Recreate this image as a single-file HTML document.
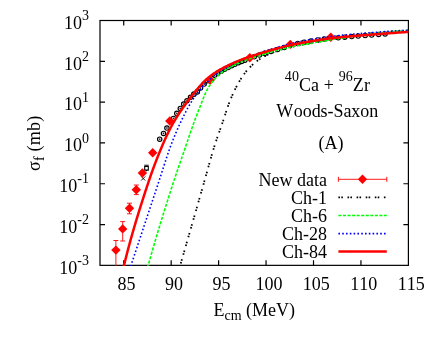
<!DOCTYPE html>
<html><head><meta charset="utf-8"><title>plot</title>
<style>html,body{margin:0;padding:0;background:#fff;width:436px;height:342px;overflow:hidden}</style></head>
<body>
<svg width="436" height="342" viewBox="0 0 436 342" style="position:absolute;left:0;top:0;will-change:transform">
<rect width="436" height="342" fill="#fff"/>
<defs><clipPath id="c"><rect x="100.0" y="20.5" width="308.4" height="245.45000000000002"/></clipPath></defs>
<g stroke="#000" stroke-width="1.2" fill="none">
<rect x="100.0" y="20.5" width="308.4" height="244.85000000000002"/>
<path d="M123.72,265.35v-5M123.72,20.5v5M171.17,265.35v-5M171.17,20.5v5M218.62,265.35v-5M218.62,20.5v5M266.06,265.35v-5M266.06,20.5v5M313.51,265.35v-5M313.51,20.5v5M360.95,265.35v-5M360.95,20.5v5M100.0,61.31h5M408.4,61.31h-5M100.0,102.12h5M408.4,102.12h-5M100.0,142.93h5M408.4,142.93h-5M100.0,183.73h5M408.4,183.73h-5M100.0,224.54h5M408.4,224.54h-5"/>
</g>
<g clip-path="url(#c)" fill="none">
<circle cx="159.7" cy="139.2" r="2.2" stroke="#000" stroke-width="1.15"/>
<path d="M158.80,139.2h1.8M159.7,138.30v1.8" stroke="#000" stroke-width="0.7"/>
<circle cx="163.5" cy="133.4" r="2.2" stroke="#000" stroke-width="1.15"/>
<path d="M162.60,133.4h1.8M163.5,132.50v1.8" stroke="#000" stroke-width="0.7"/>
<circle cx="166.9" cy="128.0" r="2.2" stroke="#000" stroke-width="1.15"/>
<path d="M166.00,128.0h1.8M166.9,127.10v1.8" stroke="#000" stroke-width="0.7"/>
<circle cx="173.41" cy="118.41" r="2.2" stroke="#000" stroke-width="1.15"/>
<path d="M172.51,118.41h1.8M173.41,117.51v1.8" stroke="#000" stroke-width="0.7"/>
<circle cx="176.8" cy="113.38" r="2.2" stroke="#000" stroke-width="1.15"/>
<path d="M175.90,113.38h1.8M176.8,112.48v1.8" stroke="#000" stroke-width="0.7"/>
<circle cx="180.31" cy="108.45" r="2.2" stroke="#000" stroke-width="1.15"/>
<path d="M179.41,108.45h1.8M180.31,107.55v1.8" stroke="#000" stroke-width="0.7"/>
<circle cx="183.67" cy="104.03" r="2.2" stroke="#000" stroke-width="1.15"/>
<path d="M182.77,104.03h1.8M183.67,103.13v1.8" stroke="#000" stroke-width="0.7"/>
<circle cx="186.96" cy="100.84" r="2.2" stroke="#000" stroke-width="1.15"/>
<path d="M186.06,100.84h1.8M186.96,99.94v1.8" stroke="#000" stroke-width="0.7"/>
<circle cx="190.53" cy="97.26" r="2.2" stroke="#000" stroke-width="1.15"/>
<path d="M189.63,97.26h1.8M190.53,96.36v1.8" stroke="#000" stroke-width="0.7"/>
<circle cx="193.83" cy="94.14" r="2.2" stroke="#000" stroke-width="1.15"/>
<path d="M192.93,94.14h1.8M193.83,93.24v1.8" stroke="#000" stroke-width="0.7"/>
<circle cx="197.37" cy="91.88" r="2.2" stroke="#000" stroke-width="1.15"/>
<path d="M196.47,91.88h1.8M197.37,90.98v1.8" stroke="#000" stroke-width="0.7"/>
<circle cx="200.55" cy="88.08" r="2.2" stroke="#000" stroke-width="1.15"/>
<path d="M199.65,88.08h1.8M200.55,87.18v1.8" stroke="#000" stroke-width="0.7"/>
<circle cx="204.17" cy="84.06" r="2.2" stroke="#000" stroke-width="1.15"/>
<path d="M203.27,84.06h1.8M204.17,83.16v1.8" stroke="#000" stroke-width="0.7"/>
<circle cx="207.64" cy="80.67" r="2.2" stroke="#000" stroke-width="1.15"/>
<path d="M206.74,80.67h1.8M207.64,79.77v1.8" stroke="#000" stroke-width="0.7"/>
<circle cx="214.51" cy="75.28" r="2.2" stroke="#000" stroke-width="1.15"/>
<path d="M213.61,75.28h1.8M214.51,74.38v1.8" stroke="#000" stroke-width="0.7"/>
<circle cx="217.79" cy="73.14" r="2.2" stroke="#000" stroke-width="1.15"/>
<path d="M216.89,73.14h1.8M217.79,72.24v1.8" stroke="#000" stroke-width="0.7"/>
<circle cx="221.15" cy="71.13" r="2.2" stroke="#000" stroke-width="1.15"/>
<path d="M220.25,71.13h1.8M221.15,70.23v1.8" stroke="#000" stroke-width="0.7"/>
<circle cx="224.61" cy="69.24" r="2.2" stroke="#000" stroke-width="1.15"/>
<path d="M223.71,69.24h1.8M224.61,68.34v1.8" stroke="#000" stroke-width="0.7"/>
<circle cx="228.13" cy="67.45" r="2.2" stroke="#000" stroke-width="1.15"/>
<path d="M227.23,67.45h1.8M228.13,66.55v1.8" stroke="#000" stroke-width="0.7"/>
<circle cx="231.7" cy="65.74" r="2.2" stroke="#000" stroke-width="1.15"/>
<path d="M230.80,65.74h1.8M231.7,64.84v1.8" stroke="#000" stroke-width="0.7"/>
<circle cx="234.85" cy="64.31" r="2.2" stroke="#000" stroke-width="1.15"/>
<path d="M233.95,64.31h1.8M234.85,63.41v1.8" stroke="#000" stroke-width="0.7"/>
<circle cx="238.46" cy="62.72" r="2.2" stroke="#000" stroke-width="1.15"/>
<path d="M237.56,62.72h1.8M238.46,61.82v1.8" stroke="#000" stroke-width="0.7"/>
<circle cx="241.66" cy="61.41" r="2.2" stroke="#000" stroke-width="1.15"/>
<path d="M240.76,61.41h1.8M241.66,60.51v1.8" stroke="#000" stroke-width="0.7"/>
<circle cx="244.9" cy="60.15" r="2.2" stroke="#000" stroke-width="1.15"/>
<path d="M244.00,60.15h1.8M244.9,59.25v1.8" stroke="#000" stroke-width="0.7"/>
<circle cx="254.26" cy="56.8" r="2.2" stroke="#000" stroke-width="1.15"/>
<path d="M253.36,56.8h1.8M254.26,55.90v1.8" stroke="#000" stroke-width="0.7"/>
<circle cx="259.47" cy="55.08" r="2.2" stroke="#000" stroke-width="1.15"/>
<path d="M258.57,55.08h1.8M259.47,54.18v1.8" stroke="#000" stroke-width="0.7"/>
<circle cx="264.7" cy="53.39" r="2.2" stroke="#000" stroke-width="1.15"/>
<path d="M263.80,53.39h1.8M264.7,52.49v1.8" stroke="#000" stroke-width="0.7"/>
<circle cx="270.89" cy="51.45" r="2.2" stroke="#000" stroke-width="1.15"/>
<path d="M269.99,51.45h1.8M270.89,50.55v1.8" stroke="#000" stroke-width="0.7"/>
<circle cx="277.58" cy="49.41" r="2.2" stroke="#000" stroke-width="1.15"/>
<path d="M276.68,49.41h1.8M277.58,48.51v1.8" stroke="#000" stroke-width="0.7"/>
<circle cx="284.28" cy="47.44" r="2.2" stroke="#000" stroke-width="1.15"/>
<path d="M283.38,47.44h1.8M284.28,46.54v1.8" stroke="#000" stroke-width="0.7"/>
<circle cx="297.69" cy="43.4" r="2.2" stroke="#000" stroke-width="1.15"/>
<path d="M296.79,43.4h1.8M297.69,42.50v1.8" stroke="#000" stroke-width="0.7"/>
<circle cx="304.09" cy="42.23" r="2.2" stroke="#000" stroke-width="1.15"/>
<path d="M303.19,42.23h1.8M304.09,41.33v1.8" stroke="#000" stroke-width="0.7"/>
<circle cx="310.99" cy="41.06" r="2.2" stroke="#000" stroke-width="1.15"/>
<path d="M310.09,41.06h1.8M310.99,40.16v1.8" stroke="#000" stroke-width="0.7"/>
<circle cx="317.9" cy="39.93" r="2.2" stroke="#000" stroke-width="1.15"/>
<path d="M317.00,39.93h1.8M317.9,39.03v1.8" stroke="#000" stroke-width="0.7"/>
<circle cx="324.34" cy="38.96" r="2.2" stroke="#000" stroke-width="1.15"/>
<path d="M323.44,38.96h1.8M324.34,38.06v1.8" stroke="#000" stroke-width="0.7"/>
<circle cx="338.29" cy="37.83" r="2.2" stroke="#000" stroke-width="1.15"/>
<path d="M337.39,37.83h1.8M338.29,36.93v1.8" stroke="#000" stroke-width="0.7"/>
<circle cx="344.76" cy="37.2" r="2.2" stroke="#000" stroke-width="1.15"/>
<path d="M343.86,37.2h1.8M344.76,36.30v1.8" stroke="#000" stroke-width="0.7"/>
<circle cx="351.73" cy="36.59" r="2.2" stroke="#000" stroke-width="1.15"/>
<path d="M350.83,36.59h1.8M351.73,35.69v1.8" stroke="#000" stroke-width="0.7"/>
<circle cx="358.21" cy="36.05" r="2.2" stroke="#000" stroke-width="1.15"/>
<path d="M357.31,36.05h1.8M358.21,35.15v1.8" stroke="#000" stroke-width="0.7"/>
<circle cx="365.18" cy="35.51" r="2.2" stroke="#000" stroke-width="1.15"/>
<path d="M364.28,35.51h1.8M365.18,34.61v1.8" stroke="#000" stroke-width="0.7"/>
<circle cx="371.67" cy="35.01" r="2.2" stroke="#000" stroke-width="1.15"/>
<path d="M370.77,35.01h1.8M371.67,34.11v1.8" stroke="#000" stroke-width="0.7"/>
<circle cx="378.64" cy="34.47" r="2.2" stroke="#000" stroke-width="1.15"/>
<path d="M377.74,34.47h1.8M378.64,33.57v1.8" stroke="#000" stroke-width="0.7"/>
<circle cx="385.12" cy="33.96" r="2.2" stroke="#000" stroke-width="1.15"/>
<path d="M384.22,33.96h1.8M385.12,33.06v1.8" stroke="#000" stroke-width="0.7"/>
<path d="M144.7,166.5h3.6v3.6h-3.6zM144.3,165.2h4.4M146.5,170.1v1.2" stroke="#000" stroke-width="1.1"/>
<path d="M141.2,176.5l4,4M145.2,176.5l-4,4" stroke="#000" stroke-width="0.9"/>
<path d="M115.9,240.5V267M113.4,240.5h5M113.4,267h5" stroke="#ff0000" stroke-width="0.9"/>
<path d="M111.20,250.10L115.90,245.40L120.60,250.10L115.90,254.80Z" fill="#ff0000"/>
<path d="M122.7,221.6V241M120.2,221.6h5M120.2,241h5" stroke="#ff0000" stroke-width="0.9"/>
<path d="M118.00,228.90L122.70,224.20L127.40,228.90L122.70,233.60Z" fill="#ff0000"/>
<path d="M129.5,203.2V213.8M127.0,203.2h5M127.0,213.8h5" stroke="#ff0000" stroke-width="0.9"/>
<path d="M124.80,208.30L129.50,203.60L134.20,208.30L129.50,213.00Z" fill="#ff0000"/>
<path d="M136.3,185V194.6M133.8,185h5M133.8,194.6h5" stroke="#ff0000" stroke-width="0.9"/>
<path d="M131.60,189.80L136.30,185.10L141.00,189.80L136.30,194.50Z" fill="#ff0000"/>
<path d="M137.70,173.00L142.40,168.30L147.10,173.00L142.40,177.70Z" fill="#ff0000"/>
<path d="M148.00,152.80L152.70,148.10L157.40,152.80L152.70,157.50Z" fill="#ff0000"/>
<path d="M165.10,121.00L169.80,116.30L174.50,121.00L169.80,125.70Z" fill="#ff0000"/>
<path d="M205.50,80.00L210.20,75.30L214.90,80.00L210.20,84.70Z" fill="#ff0000"/>
<path d="M245.10,57.70L249.80,53.00L254.50,57.70L249.80,62.40Z" fill="#ff0000"/>
<path d="M285.60,44.40L290.30,39.70L295.00,44.40L290.30,49.10Z" fill="#ff0000"/>
<path d="M326.10,37.30L330.80,32.60L335.50,37.30L330.80,42.00Z" fill="#ff0000"/>
<path d="M175.69,281.02 L175.73,280.90 L175.80,280.64 L175.92,280.24 L176.07,279.72 L176.25,279.08 L176.46,278.37 L176.69,277.58 L176.93,276.73 L177.18,275.85 L177.45,274.94 L177.72,274.01 L177.99,273.06 L178.26,272.11 L178.54,271.16 L178.81,270.20 L179.09,269.24 L179.37,268.28 L179.65,267.32 L179.92,266.36 L180.20,265.40 L180.48,264.44 L180.75,263.48 L181.03,262.52 L181.31,261.56 L181.59,260.60 L181.86,259.64 L182.14,258.67 L182.42,257.71 L182.69,256.75 L182.97,255.79 L183.25,254.83 L183.52,253.87 L183.80,252.91 L184.08,251.95 L184.36,250.99 L184.63,250.03 L184.91,249.07 L185.19,248.10 L185.46,247.14 L185.74,246.18 L186.02,245.22 L186.29,244.26 L186.57,243.30 L186.85,242.34 L187.12,241.38 L187.40,240.42 L187.68,239.46 L187.95,238.49 L188.23,237.53 L188.51,236.57 L188.78,235.61 L189.06,234.65 L189.34,233.69 L189.61,232.73 L189.89,231.77 L190.16,230.81 L190.44,229.85 L190.72,228.88 L190.99,227.92 L191.27,226.96 L191.55,226.00 L191.82,225.04 L192.10,224.08 L192.37,223.12 L192.65,222.16 L192.93,221.20 L193.20,220.23 L193.48,219.27 L193.75,218.31 L194.03,217.35 L194.31,216.39 L194.58,215.43 L194.86,214.47 L195.13,213.51 L195.41,212.55 L195.69,211.58 L195.96,210.62 L196.24,209.66 L196.51,208.70 L196.79,207.74 L197.07,206.78 L197.34,205.82 L197.62,204.86 L197.89,203.89 L198.17,202.93 L198.45,201.97 L198.72,201.01 L199.00,200.05 L199.27,199.09 L199.55,198.13 L199.82,197.17 L200.10,196.20 L200.37,195.24 L200.65,194.28 L200.93,193.32 L201.20,192.36 L201.48,191.40 L201.75,190.44 L202.03,189.48 L202.30,188.51 L202.58,187.55 L202.85,186.59 L203.13,185.63 L203.40,184.67 L203.68,183.71 L203.95,182.75 L204.23,181.78 L204.50,180.82 L204.77,179.86 L205.05,178.90 L205.32,177.93 L205.59,176.97 L205.86,176.01 L206.13,175.05 L206.40,174.08 L206.67,173.12 L206.94,172.15 L207.21,171.19 L207.47,170.23 L207.74,169.26 L208.01,168.30 L208.28,167.34 L208.54,166.37 L208.81,165.41 L209.08,164.44 L209.35,163.48 L209.62,162.52 L209.89,161.55 L210.16,160.59 L210.43,159.63 L210.71,158.67 L210.98,157.71 L211.26,156.74 L211.53,155.78 L211.81,154.82 L212.09,153.86 L212.38,152.91 L212.66,151.95 L212.95,150.99 L213.24,150.03 L213.53,149.08 L213.82,148.12 L214.12,147.17 L214.42,146.22 L214.72,145.26 L215.03,144.31 L215.34,143.36 L215.65,142.41 L215.96,141.46 L216.28,140.52 L216.60,139.57 L216.93,138.62 L217.25,137.68 L217.58,136.73 L217.91,135.79 L218.24,134.85 L218.57,133.90 L218.91,132.96 L219.24,132.02 L219.58,131.07 L219.91,130.13 L220.25,129.19 L220.58,128.25 L220.91,127.30 L221.24,126.36 L221.57,125.41 L221.90,124.47 L222.23,123.52 L222.55,122.58 L222.87,121.63 L223.19,120.68 L223.51,119.73 L223.82,118.78 L224.13,117.83 L224.44,116.88 L224.75,115.93 L225.06,114.98 L225.36,114.02 L225.67,113.07 L225.98,112.12 L226.29,111.17 L226.60,110.22 L226.92,109.27 L227.24,108.32 L227.56,107.38 L227.89,106.44 L228.23,105.49 L228.57,104.55 L228.92,103.62 L229.27,102.68 L229.63,101.75 L229.99,100.82 L230.36,99.89 L230.74,98.96 L231.12,98.03 L231.51,97.11 L231.90,96.19 L232.30,95.27 L232.71,94.36 L233.12,93.45 L233.54,92.54 L233.96,91.63 L234.40,90.73 L234.83,89.83 L235.28,88.94 L235.73,88.04 L236.18,87.15 L236.65,86.26 L237.12,85.38 L237.59,84.49 L238.08,83.61 L238.57,82.74 L239.07,81.87 L239.58,81.00 L240.09,80.14 L240.62,79.28 L241.15,78.43 L241.69,77.59 L242.24,76.76 L242.80,75.93 L243.37,75.12 L243.95,74.31 L244.54,73.51 L245.15,72.72 L245.76,71.94 L246.39,71.17 L247.03,70.41 L247.68,69.66 L248.35,68.92 L249.02,68.19 L249.71,67.47 L250.42,66.75 L251.13,66.05 L251.86,65.36 L252.59,64.68 L253.34,64.01 L254.10,63.36 L254.87,62.71 L255.64,62.08 L256.43,61.47 L257.23,60.87 L258.03,60.28 L258.85,59.71 L259.68,59.16 L260.52,58.62 L261.36,58.09 L262.22,57.58 L263.08,57.08 L263.96,56.60 L264.84,56.13 L265.73,55.68 L266.62,55.24 L267.52,54.80 L268.43,54.39 L269.34,53.98 L270.26,53.58 L271.18,53.20 L272.11,52.82 L273.04,52.45 L273.97,52.10 L274.91,51.75 L275.85,51.41 L276.79,51.08 L277.74,50.75 L278.68,50.44 L279.63,50.13 L280.59,49.83 L281.54,49.53 L282.50,49.24 L283.46,48.96 L284.42,48.68 L285.39,48.42 L286.35,48.16 L287.32,47.90 L288.29,47.65 L289.26,47.42 L290.23,47.18 L291.20,46.96 L292.17,46.74 L293.15,46.52 L294.13,46.32 L295.10,46.12 L296.08,45.92 L297.06,45.73 L298.05,45.54 L299.03,45.36 L300.01,45.18 L301.00,45.00 L301.98,44.82 L302.97,44.65 L303.95,44.47 L304.94,44.30 L305.93,44.13 L306.91,43.96 L307.90,43.78 L308.88,43.61 L309.87,43.44 L310.85,43.26 L311.84,43.08 L312.82,42.91 L313.81,42.73 L314.79,42.55 L315.78,42.37 L316.76,42.19 L317.74,42.01 L318.73,41.83 L319.71,41.65 L320.70,41.47 L321.68,41.29 L322.66,41.12 L323.65,40.94 L324.63,40.76 L325.62,40.59 L326.60,40.42 L327.59,40.25 L328.57,40.08 L329.56,39.92 L330.55,39.75 L331.53,39.59 L332.52,39.43 L333.51,39.27 L334.49,39.12 L335.48,38.96 L336.47,38.81 L337.46,38.66 L338.45,38.51 L339.44,38.37 L340.43,38.22 L341.42,38.08 L342.41,37.93 L343.40,37.79 L344.39,37.65 L345.38,37.51 L346.37,37.37 L347.36,37.23 L348.35,37.09 L349.34,36.95 L350.33,36.82 L351.32,36.68 L352.31,36.54 L353.30,36.41 L354.29,36.27 L355.28,36.14 L356.27,36.00 L357.26,35.87 L358.26,35.74 L359.25,35.61 L360.24,35.47 L361.23,35.34 L362.22,35.21 L363.21,35.08 L364.20,34.95 L365.20,34.82 L366.19,34.69 L367.18,34.57 L368.17,34.44 L369.16,34.31 L370.15,34.19 L371.15,34.06 L372.14,33.94 L373.13,33.81 L374.12,33.69 L375.12,33.56 L376.11,33.44 L377.10,33.31 L378.09,33.19 L379.09,33.07 L380.08,32.95 L381.07,32.83 L382.06,32.71 L383.06,32.59 L384.05,32.47 L385.04,32.35 L386.04,32.24 L387.03,32.13 L388.03,32.02 L389.02,31.91 L390.01,31.81 L391.01,31.71 L392.00,31.61 L393.00,31.51 L393.99,31.42 L394.99,31.33 L395.98,31.24 L396.98,31.15 L397.97,31.07 L398.97,30.99 L399.96,30.91 L400.95,30.83 L401.94,30.76 L402.92,30.68 L403.90,30.61 L404.87,30.55 L405.84,30.48 L406.80,30.42 L407.75,30.35 L408.70,30.29 L409.64,30.24 L410.57,30.18 L411.49,30.12 L412.41,30.07 L413.32,30.01 L414.22,29.96 L415.12,29.90 L416.01,29.85 L416.89,29.80 L417.76,29.75 L418.60,29.70 L419.41,29.65 L420.18,29.61 L420.89,29.56 L421.52,29.53 L422.06,29.49 L422.50,29.47 L422.81,29.45 L422.99,29.44" stroke="#000" stroke-width="1.8" stroke-dasharray="1.6 1.3 1.6 4.6"/>
<path d="M143.89,281.09 L143.92,280.97 L144.00,280.71 L144.11,280.31 L144.25,279.78 L144.43,279.15 L144.62,278.42 L144.84,277.63 L145.08,276.78 L145.32,275.90 L145.57,274.98 L145.83,274.05 L146.09,273.10 L146.35,272.14 L146.61,271.19 L146.88,270.22 L147.14,269.26 L147.41,268.30 L147.67,267.33 L147.94,266.37 L148.20,265.40 L148.47,264.44 L148.74,263.47 L149.00,262.51 L149.27,261.54 L149.54,260.58 L149.81,259.62 L150.08,258.65 L150.35,257.69 L150.62,256.73 L150.89,255.76 L151.16,254.80 L151.44,253.84 L151.71,252.87 L151.99,251.91 L152.26,250.95 L152.54,249.99 L152.81,249.03 L153.09,248.07 L153.37,247.10 L153.64,246.14 L153.92,245.18 L154.20,244.22 L154.48,243.26 L154.76,242.30 L155.04,241.34 L155.33,240.38 L155.61,239.42 L155.89,238.46 L156.18,237.50 L156.46,236.54 L156.74,235.59 L157.03,234.63 L157.32,233.67 L157.60,232.71 L157.89,231.75 L158.18,230.79 L158.47,229.84 L158.75,228.88 L159.04,227.92 L159.33,226.96 L159.62,226.01 L159.92,225.05 L160.21,224.09 L160.50,223.14 L160.79,222.18 L161.08,221.22 L161.38,220.27 L161.67,219.31 L161.97,218.36 L162.26,217.40 L162.56,216.45 L162.85,215.49 L163.15,214.54 L163.45,213.58 L163.74,212.63 L164.04,211.67 L164.34,210.72 L164.64,209.76 L164.94,208.81 L165.24,207.86 L165.54,206.90 L165.84,205.95 L166.14,204.99 L166.44,204.04 L166.74,203.09 L167.04,202.13 L167.34,201.18 L167.65,200.23 L167.95,199.28 L168.25,198.32 L168.56,197.37 L168.86,196.42 L169.17,195.47 L169.47,194.51 L169.78,193.56 L170.08,192.61 L170.39,191.66 L170.70,190.71 L171.00,189.76 L171.31,188.81 L171.62,187.85 L171.92,186.90 L172.23,185.95 L172.54,185.00 L172.85,184.05 L173.16,183.10 L173.47,182.15 L173.78,181.20 L174.10,180.25 L174.41,179.30 L174.72,178.35 L175.04,177.40 L175.36,176.46 L175.68,175.51 L175.99,174.56 L176.31,173.61 L176.64,172.67 L176.96,171.72 L177.28,170.77 L177.61,169.83 L177.93,168.88 L178.26,167.94 L178.59,166.99 L178.91,166.05 L179.24,165.10 L179.57,164.16 L179.90,163.21 L180.23,162.27 L180.56,161.32 L180.88,160.38 L181.21,159.43 L181.54,158.49 L181.87,157.55 L182.20,156.60 L182.52,155.65 L182.85,154.71 L183.18,153.76 L183.50,152.82 L183.83,151.87 L184.15,150.93 L184.47,149.98 L184.80,149.03 L185.12,148.09 L185.44,147.14 L185.76,146.19 L186.09,145.25 L186.41,144.30 L186.73,143.35 L187.05,142.40 L187.37,141.46 L187.70,140.51 L188.02,139.56 L188.34,138.62 L188.66,137.67 L188.99,136.72 L189.31,135.78 L189.63,134.83 L189.96,133.89 L190.28,132.94 L190.61,131.99 L190.94,131.05 L191.27,130.11 L191.60,129.16 L191.93,128.22 L192.26,127.27 L192.59,126.33 L192.93,125.39 L193.26,124.45 L193.60,123.51 L193.94,122.57 L194.28,121.63 L194.63,120.69 L194.97,119.75 L195.32,118.81 L195.67,117.88 L196.02,116.94 L196.38,116.01 L196.73,115.07 L197.09,114.14 L197.45,113.21 L197.81,112.27 L198.18,111.34 L198.54,110.41 L198.91,109.48 L199.28,108.55 L199.64,107.61 L200.01,106.68 L200.38,105.75 L200.74,104.82 L201.11,103.88 L201.48,102.95 L201.84,102.01 L202.21,101.08 L202.58,100.14 L202.95,99.21 L203.33,98.28 L203.70,97.35 L204.09,96.42 L204.47,95.50 L204.87,94.58 L205.27,93.67 L205.69,92.76 L206.11,91.87 L206.55,90.97 L207.00,90.09 L207.47,89.21 L207.95,88.34 L208.44,87.48 L208.95,86.63 L209.48,85.79 L210.03,84.96 L210.59,84.14 L211.17,83.33 L211.77,82.53 L212.38,81.75 L213.01,80.98 L213.66,80.22 L214.32,79.48 L215.00,78.75 L215.69,78.03 L216.40,77.33 L217.12,76.64 L217.85,75.97 L218.60,75.31 L219.36,74.66 L220.13,74.03 L220.91,73.41 L221.70,72.80 L222.50,72.20 L223.31,71.61 L224.13,71.04 L224.95,70.47 L225.78,69.92 L226.62,69.38 L227.47,68.85 L228.32,68.33 L229.18,67.82 L230.05,67.33 L230.92,66.84 L231.80,66.36 L232.68,65.90 L233.57,65.44 L234.46,64.99 L235.36,64.55 L236.26,64.12 L237.17,63.70 L238.08,63.28 L238.99,62.87 L239.90,62.47 L240.82,62.08 L241.74,61.69 L242.66,61.30 L243.59,60.92 L244.52,60.55 L245.45,60.19 L246.38,59.83 L247.32,59.48 L248.25,59.13 L249.19,58.79 L250.14,58.46 L251.08,58.13 L252.03,57.81 L252.98,57.50 L253.93,57.19 L254.88,56.88 L255.83,56.58 L256.79,56.28 L257.74,55.99 L258.70,55.69 L259.65,55.40 L260.61,55.12 L261.57,54.83 L262.53,54.54 L263.49,54.26 L264.45,53.98 L265.41,53.69 L266.37,53.41 L267.33,53.14 L268.29,52.86 L269.25,52.59 L270.21,52.31 L271.17,52.04 L272.14,51.77 L273.10,51.50 L274.07,51.24 L275.03,50.97 L276.00,50.71 L276.96,50.44 L277.93,50.18 L278.89,49.92 L279.86,49.67 L280.83,49.42 L281.80,49.16 L282.76,48.92 L283.73,48.67 L284.70,48.43 L285.68,48.20 L286.65,47.96 L287.62,47.73 L288.59,47.51 L289.57,47.29 L290.54,47.08 L291.52,46.87 L292.50,46.66 L293.48,46.46 L294.46,46.26 L295.44,46.07 L296.42,45.88 L297.40,45.69 L298.38,45.50 L299.37,45.32 L300.35,45.14 L301.33,44.96 L302.32,44.79 L303.30,44.61 L304.29,44.44 L305.27,44.26 L306.26,44.09 L307.24,43.91 L308.23,43.74 L309.21,43.56 L310.20,43.38 L311.18,43.21 L312.17,43.03 L313.15,42.85 L314.14,42.67 L315.12,42.49 L316.10,42.31 L317.09,42.13 L318.07,41.95 L319.05,41.77 L320.04,41.59 L321.02,41.41 L322.01,41.23 L322.99,41.06 L323.97,40.88 L324.96,40.71 L325.94,40.53 L326.93,40.36 L327.91,40.19 L328.90,40.03 L329.89,39.86 L330.87,39.70 L331.86,39.54 L332.85,39.38 L333.83,39.22 L334.82,39.07 L335.81,38.91 L336.80,38.76 L337.79,38.61 L338.78,38.46 L339.76,38.32 L340.75,38.17 L341.74,38.03 L342.73,37.88 L343.72,37.74 L344.71,37.60 L345.70,37.46 L346.69,37.32 L347.68,37.18 L348.68,37.05 L349.67,36.91 L350.66,36.77 L351.65,36.64 L352.64,36.50 L353.63,36.36 L354.62,36.23 L355.61,36.09 L356.60,35.96 L357.59,35.83 L358.58,35.69 L359.58,35.56 L360.57,35.43 L361.56,35.30 L362.55,35.17 L363.54,35.04 L364.53,34.91 L365.52,34.78 L366.52,34.65 L367.51,34.52 L368.50,34.40 L369.49,34.27 L370.48,34.14 L371.48,34.02 L372.47,33.89 L373.46,33.77 L374.45,33.64 L375.45,33.52 L376.44,33.40 L377.43,33.27 L378.42,33.15 L379.42,33.03 L380.41,32.91 L381.40,32.79 L382.39,32.67 L383.39,32.55 L384.38,32.43 L385.37,32.32 L386.37,32.20 L387.36,32.09 L388.35,31.98 L389.35,31.88 L390.34,31.77 L391.34,31.67 L392.33,31.57 L393.33,31.48 L394.32,31.39 L395.31,31.30 L396.30,31.21 L397.29,31.12 L398.28,31.04 L399.25,30.96 L400.21,30.89 L401.16,30.81 L402.08,30.74 L402.98,30.68 L403.83,30.61 L404.65,30.56 L405.41,30.50 L406.12,30.45 L406.77,30.41 L407.35,30.37 L407.88,30.34 L408.35,30.31 L408.77,30.28 L409.15,30.26 L409.49,30.24 L409.80,30.22 L410.09,30.20 L410.36,30.19 L410.61,30.17 L410.85,30.16 L411.08,30.14 L411.30,30.13 L411.51,30.12 L411.69,30.11 L411.86,30.10 L412.01,30.09 L412.12,30.08 L412.20,30.08 L412.25,30.07" stroke="#00ff00" stroke-width="1.6" stroke-dasharray="3.1 1.45"/>
<path d="M125.89,280.83 L125.92,280.72 L126.01,280.46 L126.14,280.06 L126.31,279.54 L126.52,278.92 L126.76,278.21 L127.01,277.43 L127.29,276.60 L127.58,275.72 L127.88,274.82 L128.18,273.90 L128.49,272.97 L128.80,272.03 L129.11,271.09 L129.43,270.14 L129.74,269.20 L130.06,268.25 L130.37,267.30 L130.69,266.35 L131.00,265.40 L131.31,264.45 L131.63,263.50 L131.94,262.55 L132.26,261.60 L132.57,260.65 L132.89,259.70 L133.20,258.76 L133.52,257.81 L133.83,256.86 L134.15,255.91 L134.46,254.96 L134.78,254.01 L135.09,253.06 L135.41,252.11 L135.72,251.16 L136.03,250.21 L136.35,249.26 L136.66,248.31 L136.98,247.37 L137.29,246.42 L137.61,245.47 L137.92,244.52 L138.24,243.57 L138.55,242.62 L138.87,241.67 L139.18,240.72 L139.50,239.77 L139.81,238.82 L140.13,237.87 L140.44,236.93 L140.76,235.98 L141.07,235.03 L141.39,234.08 L141.70,233.13 L142.02,232.18 L142.33,231.23 L142.65,230.28 L142.96,229.33 L143.28,228.38 L143.59,227.43 L143.91,226.49 L144.23,225.54 L144.54,224.59 L144.86,223.64 L145.17,222.69 L145.49,221.74 L145.80,220.79 L146.12,219.84 L146.43,218.89 L146.75,217.94 L147.06,217.00 L147.38,216.05 L147.69,215.10 L148.01,214.15 L148.32,213.20 L148.64,212.25 L148.95,211.30 L149.27,210.35 L149.59,209.40 L149.90,208.45 L150.22,207.51 L150.53,206.56 L150.85,205.61 L151.16,204.66 L151.48,203.71 L151.79,202.76 L152.11,201.81 L152.43,200.86 L152.74,199.91 L153.06,198.97 L153.37,198.02 L153.69,197.07 L154.00,196.12 L154.32,195.17 L154.63,194.22 L154.95,193.27 L155.27,192.32 L155.58,191.37 L155.90,190.43 L156.21,189.48 L156.53,188.53 L156.84,187.58 L157.16,186.63 L157.47,185.68 L157.79,184.73 L158.10,183.78 L158.42,182.83 L158.73,181.88 L159.05,180.93 L159.36,179.98 L159.67,179.03 L159.98,178.08 L160.29,177.13 L160.60,176.18 L160.91,175.23 L161.22,174.28 L161.53,173.32 L161.83,172.37 L162.14,171.42 L162.45,170.46 L162.75,169.51 L163.06,168.56 L163.36,167.60 L163.67,166.65 L163.97,165.70 L164.28,164.74 L164.59,163.79 L164.89,162.84 L165.20,161.89 L165.51,160.94 L165.82,159.98 L166.14,159.03 L166.45,158.08 L166.77,157.14 L167.08,156.19 L167.40,155.24 L167.72,154.29 L168.05,153.35 L168.37,152.40 L168.70,151.46 L169.03,150.52 L169.37,149.58 L169.71,148.64 L170.05,147.70 L170.39,146.76 L170.74,145.83 L171.09,144.89 L171.44,143.96 L171.80,143.02 L172.16,142.09 L172.52,141.16 L172.89,140.23 L173.26,139.30 L173.63,138.38 L174.00,137.45 L174.38,136.52 L174.76,135.60 L175.15,134.68 L175.54,133.75 L175.93,132.83 L176.32,131.91 L176.72,130.99 L177.12,130.07 L177.52,129.16 L177.92,128.24 L178.33,127.33 L178.74,126.41 L179.15,125.50 L179.57,124.59 L179.99,123.68 L180.41,122.77 L180.83,121.87 L181.25,120.96 L181.68,120.06 L182.11,119.16 L182.55,118.25 L182.98,117.36 L183.42,116.46 L183.87,115.56 L184.31,114.67 L184.76,113.77 L185.22,112.88 L185.68,112.00 L186.14,111.11 L186.60,110.22 L187.08,109.34 L187.55,108.46 L188.03,107.59 L188.52,106.71 L189.01,105.84 L189.51,104.98 L190.02,104.11 L190.53,103.25 L191.04,102.40 L191.57,101.55 L192.10,100.70 L192.63,99.86 L193.18,99.02 L193.73,98.19 L194.29,97.36 L194.86,96.54 L195.44,95.73 L196.02,94.92 L196.62,94.11 L197.22,93.31 L197.83,92.52 L198.44,91.74 L199.07,90.96 L199.70,90.18 L200.34,89.41 L200.98,88.65 L201.63,87.89 L202.29,87.13 L202.95,86.38 L203.62,85.64 L204.29,84.90 L204.97,84.17 L205.66,83.44 L206.35,82.72 L207.05,82.01 L207.75,81.31 L208.47,80.61 L209.20,79.93 L209.93,79.26 L210.68,78.60 L211.44,77.95 L212.20,77.31 L212.97,76.68 L213.75,76.05 L214.54,75.44 L215.34,74.84 L216.14,74.24 L216.95,73.66 L217.77,73.08 L218.59,72.51 L219.41,71.94 L220.24,71.39 L221.08,70.84 L221.92,70.30 L222.76,69.77 L223.61,69.24 L224.47,68.72 L225.33,68.21 L226.19,67.70 L227.05,67.21 L227.92,66.71 L228.80,66.23 L229.68,65.75 L230.56,65.28 L231.44,64.81 L232.33,64.35 L233.22,63.90 L234.11,63.45 L235.01,63.01 L235.91,62.57 L236.81,62.14 L237.72,61.72 L238.62,61.29 L239.53,60.88 L240.44,60.47 L241.36,60.06 L242.27,59.66 L243.19,59.26 L244.11,58.87 L245.03,58.48 L245.95,58.10 L246.88,57.72 L247.80,57.34 L248.73,56.97 L249.66,56.61 L250.60,56.24 L251.53,55.89 L252.46,55.53 L253.40,55.19 L254.34,54.84 L255.28,54.50 L256.22,54.16 L257.16,53.83 L258.11,53.49 L259.05,53.16 L259.99,52.83 L260.94,52.51 L261.89,52.18 L262.83,51.86 L263.78,51.54 L264.73,51.23 L265.68,50.91 L266.63,50.60 L267.58,50.29 L268.53,49.99 L269.49,49.69 L270.44,49.39 L271.40,49.10 L272.35,48.80 L273.31,48.52 L274.27,48.23 L275.23,47.95 L276.19,47.67 L277.15,47.39 L278.11,47.12 L279.07,46.85 L280.04,46.58 L281.00,46.31 L281.97,46.05 L282.93,45.79 L283.90,45.53 L284.87,45.28 L285.83,45.03 L286.80,44.78 L287.77,44.53 L288.74,44.29 L289.71,44.05 L290.68,43.81 L291.66,43.58 L292.63,43.35 L293.60,43.12 L294.58,42.89 L295.55,42.66 L296.52,42.44 L297.50,42.22 L298.48,42.00 L299.45,41.79 L300.43,41.58 L301.41,41.37 L302.39,41.16 L303.37,40.96 L304.35,40.76 L305.33,40.56 L306.31,40.37 L307.29,40.18 L308.27,39.99 L309.26,39.81 L310.24,39.63 L311.22,39.46 L312.21,39.29 L313.19,39.12 L314.18,38.95 L315.17,38.79 L316.15,38.63 L317.14,38.47 L318.13,38.32 L319.12,38.17 L320.11,38.02 L321.10,37.87 L322.09,37.73 L323.08,37.59 L324.07,37.45 L325.06,37.31 L326.05,37.18 L327.04,37.05 L328.03,36.91 L329.02,36.79 L330.01,36.66 L331.01,36.53 L332.00,36.41 L332.99,36.29 L333.98,36.17 L334.98,36.05 L335.97,35.94 L336.96,35.82 L337.96,35.71 L338.95,35.60 L339.95,35.49 L340.94,35.38 L341.93,35.27 L342.93,35.17 L343.92,35.06 L344.92,34.96 L345.91,34.86 L346.91,34.76 L347.90,34.66 L348.90,34.57 L349.89,34.47 L350.89,34.38 L351.89,34.28 L352.88,34.19 L353.88,34.10 L354.87,34.01 L355.87,33.92 L356.87,33.83 L357.86,33.74 L358.86,33.66 L359.85,33.57 L360.85,33.49 L361.85,33.41 L362.84,33.32 L363.84,33.24 L364.84,33.16 L365.83,33.08 L366.83,33.00 L367.83,32.92 L368.82,32.84 L369.82,32.77 L370.82,32.69 L371.82,32.61 L372.81,32.53 L373.81,32.45 L374.81,32.38 L375.80,32.30 L376.80,32.22 L377.80,32.15 L378.80,32.07 L379.79,32.00 L380.79,31.92 L381.79,31.85 L382.78,31.77 L383.78,31.70 L384.78,31.63 L385.78,31.55 L386.77,31.48 L387.77,31.41 L388.77,31.35 L389.77,31.28 L390.76,31.21 L391.76,31.15 L392.76,31.08 L393.76,31.02 L394.75,30.96 L395.75,30.89 L396.74,30.83 L397.73,30.78 L398.71,30.72 L399.69,30.66 L400.65,30.61 L401.59,30.56 L402.51,30.51 L403.41,30.46 L404.26,30.41 L405.08,30.37 L405.85,30.33 L406.56,30.29 L407.23,30.26 L407.84,30.23 L408.40,30.20 L408.91,30.18 L409.38,30.15 L409.82,30.13 L410.22,30.11 L410.61,30.10 L410.97,30.08 L411.32,30.06 L411.65,30.05 L411.97,30.03 L412.28,30.02 L412.57,30.00 L412.85,29.99 L413.09,29.98 L413.31,29.97 L413.49,29.96 L413.63,29.95 L413.72,29.95 L413.76,29.95" stroke="#0000ff" stroke-width="1.6" stroke-dasharray="1.6 2.2"/>
<path d="M120.20,281.26 L120.23,281.14 L120.29,280.87 L120.39,280.47 L120.52,279.93 L120.67,279.29 L120.85,278.56 L121.04,277.76 L121.24,276.90 L121.46,276.01 L121.68,275.08 L121.91,274.14 L122.14,273.18 L122.37,272.22 L122.60,271.25 L122.83,270.27 L123.07,269.30 L123.30,268.33 L123.54,267.35 L123.77,266.38 L124.01,265.40 L124.24,264.43 L124.48,263.45 L124.72,262.48 L124.96,261.51 L125.20,260.53 L125.44,259.56 L125.68,258.59 L125.93,257.61 L126.17,256.64 L126.42,255.67 L126.67,254.70 L126.92,253.73 L127.17,252.76 L127.42,251.79 L127.67,250.82 L127.93,249.85 L128.18,248.88 L128.44,247.91 L128.70,246.95 L128.96,245.98 L129.22,245.01 L129.48,244.05 L129.74,243.08 L130.00,242.11 L130.27,241.15 L130.54,240.18 L130.80,239.22 L131.07,238.25 L131.34,237.29 L131.61,236.33 L131.88,235.36 L132.16,234.40 L132.43,233.44 L132.71,232.48 L132.98,231.51 L133.26,230.55 L133.54,229.59 L133.82,228.63 L134.10,227.67 L134.38,226.71 L134.66,225.75 L134.94,224.79 L135.23,223.83 L135.51,222.87 L135.80,221.92 L136.09,220.96 L136.37,220.00 L136.66,219.04 L136.95,218.09 L137.24,217.13 L137.53,216.17 L137.83,215.22 L138.12,214.26 L138.42,213.31 L138.71,212.35 L139.01,211.39 L139.30,210.44 L139.60,209.49 L139.90,208.53 L140.20,207.58 L140.50,206.62 L140.80,205.67 L141.10,204.72 L141.40,203.77 L141.70,202.81 L142.01,201.86 L142.31,200.91 L142.62,199.96 L142.92,199.01 L143.23,198.06 L143.54,197.11 L143.84,196.15 L144.15,195.20 L144.46,194.25 L144.77,193.31 L145.08,192.36 L145.39,191.41 L145.70,190.46 L146.01,189.51 L146.33,188.56 L146.64,187.61 L146.95,186.66 L147.27,185.72 L147.58,184.77 L147.90,183.82 L148.22,182.87 L148.54,181.93 L148.85,180.98 L149.18,180.03 L149.50,179.09 L149.82,178.14 L150.15,177.20 L150.47,176.25 L150.80,175.31 L151.13,174.37 L151.46,173.42 L151.80,172.48 L152.13,171.54 L152.47,170.60 L152.81,169.66 L153.15,168.71 L153.50,167.78 L153.85,166.84 L154.19,165.90 L154.55,164.96 L154.90,164.02 L155.25,163.09 L155.61,162.15 L155.97,161.22 L156.33,160.29 L156.69,159.36 L157.06,158.42 L157.42,157.49 L157.79,156.56 L158.16,155.64 L158.53,154.71 L158.91,153.78 L159.28,152.85 L159.66,151.93 L160.04,151.00 L160.42,150.08 L160.81,149.15 L161.19,148.23 L161.58,147.31 L161.97,146.39 L162.36,145.46 L162.76,144.54 L163.15,143.62 L163.55,142.70 L163.96,141.79 L164.36,140.87 L164.77,139.96 L165.18,139.04 L165.59,138.13 L166.01,137.22 L166.43,136.31 L166.85,135.40 L167.28,134.50 L167.71,133.60 L168.14,132.70 L168.58,131.80 L169.02,130.91 L169.47,130.01 L169.92,129.12 L170.38,128.24 L170.84,127.35 L171.31,126.47 L171.79,125.60 L172.27,124.72 L172.75,123.85 L173.24,122.98 L173.74,122.11 L174.24,121.25 L174.75,120.39 L175.27,119.53 L175.79,118.68 L176.31,117.82 L176.84,116.97 L177.37,116.13 L177.90,115.28 L178.44,114.44 L178.99,113.60 L179.53,112.76 L180.08,111.92 L180.64,111.09 L181.19,110.26 L181.75,109.43 L182.32,108.60 L182.89,107.78 L183.46,106.96 L184.04,106.15 L184.62,105.33 L185.20,104.52 L185.79,103.72 L186.39,102.91 L186.98,102.11 L187.59,101.31 L188.19,100.52 L188.80,99.72 L189.41,98.93 L190.03,98.14 L190.64,97.36 L191.26,96.57 L191.89,95.79 L192.51,95.01 L193.14,94.23 L193.77,93.45 L194.39,92.67 L195.03,91.89 L195.66,91.12 L196.29,90.35 L196.93,89.58 L197.57,88.81 L198.22,88.04 L198.86,87.28 L199.52,86.52 L200.17,85.77 L200.84,85.02 L201.50,84.28 L202.18,83.55 L202.87,82.82 L203.56,82.10 L204.26,81.39 L204.97,80.70 L205.70,80.01 L206.43,79.34 L207.17,78.67 L207.93,78.02 L208.70,77.39 L209.47,76.76 L210.26,76.15 L211.05,75.54 L211.86,74.95 L212.67,74.37 L213.49,73.80 L214.32,73.24 L215.15,72.69 L215.99,72.14 L216.83,71.61 L217.68,71.09 L218.54,70.57 L219.40,70.06 L220.26,69.56 L221.13,69.07 L222.01,68.59 L222.89,68.11 L223.77,67.65 L224.66,67.18 L225.54,66.73 L226.44,66.28 L227.33,65.83 L228.23,65.40 L229.13,64.96 L230.04,64.53 L230.94,64.11 L231.85,63.69 L232.76,63.27 L233.67,62.86 L234.59,62.46 L235.50,62.07 L236.42,61.68 L237.35,61.30 L238.27,60.92 L239.20,60.55 L240.13,60.19 L241.07,59.83 L242.00,59.48 L242.94,59.13 L243.88,58.79 L244.82,58.45 L245.76,58.12 L246.71,57.79 L247.65,57.46 L248.60,57.13 L249.54,56.81 L250.49,56.50 L251.44,56.18 L252.39,55.87 L253.34,55.57 L254.30,55.26 L255.25,54.96 L256.20,54.66 L257.16,54.36 L258.11,54.06 L259.07,53.77 L260.02,53.47 L260.98,53.18 L261.94,52.89 L262.89,52.60 L263.85,52.31 L264.81,52.02 L265.77,51.73 L266.72,51.45 L267.68,51.16 L268.64,50.88 L269.60,50.60 L270.56,50.32 L271.52,50.04 L272.48,49.77 L273.45,49.49 L274.41,49.22 L275.37,48.95 L276.34,48.68 L277.30,48.41 L278.27,48.15 L279.23,47.88 L280.20,47.62 L281.16,47.37 L282.13,47.11 L283.10,46.86 L284.07,46.61 L285.04,46.37 L286.01,46.13 L286.98,45.90 L287.95,45.67 L288.92,45.44 L289.90,45.22 L290.87,45.00 L291.85,44.79 L292.83,44.58 L293.80,44.38 L294.78,44.18 L295.76,43.98 L296.74,43.79 L297.73,43.60 L298.71,43.41 L299.69,43.23 L300.68,43.05 L301.66,42.87 L302.64,42.69 L303.63,42.52 L304.61,42.34 L305.60,42.17 L306.59,42.00 L307.57,41.83 L308.56,41.67 L309.55,41.50 L310.53,41.34 L311.52,41.17 L312.51,41.01 L313.49,40.85 L314.48,40.68 L315.47,40.52 L316.45,40.36 L317.44,40.20 L318.43,40.05 L319.42,39.89 L320.41,39.74 L321.40,39.59 L322.38,39.44 L323.37,39.29 L324.36,39.14 L325.35,39.00 L326.34,38.86 L327.33,38.73 L328.32,38.60 L329.32,38.47 L330.31,38.34 L331.30,38.22 L332.29,38.10 L333.28,37.98 L334.28,37.86 L335.27,37.75 L336.26,37.64 L337.26,37.54 L338.25,37.43 L339.25,37.33 L340.24,37.23 L341.24,37.14 L342.23,37.04 L343.23,36.94 L344.22,36.85 L345.22,36.76 L346.22,36.67 L347.21,36.58 L348.21,36.49 L349.20,36.40 L350.20,36.32 L351.20,36.23 L352.19,36.14 L353.19,36.06 L354.19,35.98 L355.18,35.90 L356.18,35.81 L357.18,35.73 L358.17,35.65 L359.17,35.57 L360.17,35.50 L361.16,35.42 L362.16,35.34 L363.16,35.26 L364.16,35.19 L365.15,35.11 L366.15,35.03 L367.15,34.96 L368.14,34.88 L369.14,34.81 L370.14,34.73 L371.14,34.65 L372.13,34.58 L373.13,34.50 L374.13,34.42 L375.12,34.35 L376.12,34.27 L377.12,34.19 L378.12,34.11 L379.11,34.03 L380.11,33.96 L381.11,33.88 L382.10,33.80 L383.10,33.72 L384.10,33.64 L385.09,33.57 L386.09,33.49 L387.09,33.41 L388.08,33.34 L389.08,33.26 L390.08,33.18 L391.08,33.11 L392.07,33.04 L393.07,32.96 L394.07,32.89 L395.06,32.82 L396.06,32.75 L397.05,32.67 L398.05,32.60 L399.04,32.53 L400.02,32.47 L401.00,32.40 L401.97,32.33 L402.93,32.27 L403.88,32.20 L404.82,32.14 L405.73,32.08 L406.63,32.02 L407.50,31.96 L408.36,31.91 L409.19,31.85 L410.00,31.80 L410.80,31.75 L411.57,31.69 L412.34,31.65 L413.09,31.60 L413.83,31.55 L414.57,31.50 L415.29,31.45 L415.99,31.41 L416.68,31.36 L417.34,31.32 L417.96,31.28 L418.54,31.24 L419.05,31.21 L419.49,31.18 L419.85,31.16 L420.10,31.14 L420.24,31.13" stroke="#ff0000" stroke-width="2.5"/>
</g>
<g fill="none">
<path d="M338.4,179.3H386.8M338.4,176.8v5M386.8,176.8v5" stroke="#ff0000" stroke-width="0.9"/>
<path d="M357.80,179.30L362.50,174.60L367.20,179.30L362.50,184.00Z" fill="#ff0000"/>
<path d="M338.4,197.3H386.8" stroke="#000" stroke-width="1.8" stroke-dasharray="1.6 1.3 1.6 4.6"/>
<path d="M338.4,215.5H386.8" stroke="#00ff00" stroke-width="1.6" stroke-dasharray="3.1 1.45"/>
<path d="M338.4,233.6H386.8" stroke="#0000ff" stroke-width="1.6" stroke-dasharray="1.6 2.2"/>
<path d="M338.4,251.5H386.8" stroke="#ff0000" stroke-width="2.5"/>
</g>
<g font-family="'Liberation Serif', serif" font-size="18" fill="#000" style="filter:grayscale(1);font-kerning:none">
<text x="88.9" y="28.7" text-anchor="end">10<tspan font-size="14" dy="-8.6">3</tspan></text>
<text x="88.9" y="69.5" text-anchor="end">10<tspan font-size="14" dy="-8.6">2</tspan></text>
<text x="88.9" y="110.3" text-anchor="end">10<tspan font-size="14" dy="-8.6">1</tspan></text>
<text x="88.9" y="151.1" text-anchor="end">10<tspan font-size="14" dy="-8.6">0</tspan></text>
<text x="88.9" y="191.9" text-anchor="end">10<tspan font-size="14" dy="-8.6">-1</tspan></text>
<text x="88.9" y="232.7" text-anchor="end">10<tspan font-size="14" dy="-8.6">-2</tspan></text>
<text x="88.9" y="273.6" text-anchor="end">10<tspan font-size="14" dy="-8.6">-3</tspan></text>
<text x="126.5" y="290.3" text-anchor="middle">85</text>
<text x="174.0" y="290.3" text-anchor="middle">90</text>
<text x="221.4" y="290.3" text-anchor="middle">95</text>
<text x="268.9" y="290.3" text-anchor="middle">100</text>
<text x="316.3" y="290.3" text-anchor="middle">105</text>
<text x="363.8" y="290.3" text-anchor="middle">110</text>
<text x="411.2" y="290.3" text-anchor="middle">115</text>
<text x="327" y="185.5" text-anchor="end">New data</text>
<text x="327" y="203.5" text-anchor="end">Ch-1</text>
<text x="327" y="221.5" text-anchor="end">Ch-6</text>
<text x="327" y="239.7" text-anchor="end">Ch-28</text>
<text x="327" y="257.7" text-anchor="end">Ch-84</text>
<text x="284.8" y="90.7" letter-spacing="0.1"><tspan font-size="14" dy="-9.5">40</tspan><tspan dy="9.5">Ca + </tspan><tspan font-size="14" dy="-9.5">96</tspan><tspan dy="9.5">Zr</tspan></text>
<text x="276.2" y="117.4" letter-spacing="-0.07">W<tspan dx="0.7">oods-Saxon</tspan></text>
<text x="331" y="149.3" text-anchor="middle">(A)</text>
<text x="213.5" y="315.8">E<tspan font-size="14" dy="4.5">cm</tspan><tspan dy="-4.5"> (MeV)</tspan></text>
<text transform="translate(40.1,171) rotate(-90)" letter-spacing="0.25">σ<tspan font-size="14" dy="4">f</tspan><tspan dy="-4"> (mb)</tspan></text>
</g>
</svg>
</body></html>
